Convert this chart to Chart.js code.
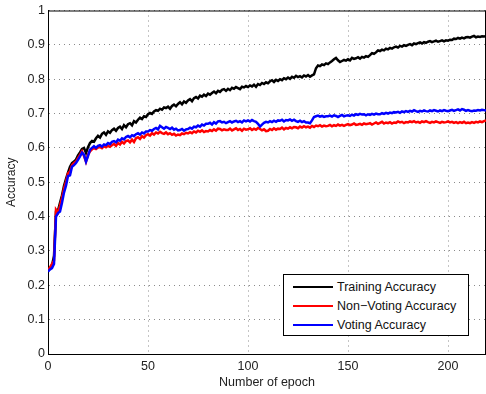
<!DOCTYPE html>
<html>
<head>
<meta charset="utf-8">
<script src="https://cdn.jsdelivr.net/npm/chart.js@4/dist/chart.umd.min.js"></script>
<style>
  body { margin: 0; background: #fff; }
  #wrap { position: relative; width: 486px; height: 394px; }
  #legend {
    position: absolute; left: 283px; top: 274px; width: 184px; height: 60px;
    border: 1px solid #000; background: #fff;
    font: 12.5px "Liberation Sans", Arial, sans-serif; color: #111;
  }
  #legend .row { position: absolute; left: 9px; height: 16px; line-height: 16px; white-space: nowrap; }
  #legend .swatch { display: inline-block; width: 40px; height: 2px; vertical-align: middle; margin-right: 4px; margin-top: -2px; }
</style>
</head>
<body>
<div id="wrap">
  <canvas id="line-chart" width="486" height="394"></canvas>
  <div id="legend"></div>
</div>
<script>
var seriesNames = ["Training Accuracy", "Non\u2212Voting Accuracy", "Voting Accuracy"];
var seriesColors = ["#000000", "#ff0000", "#0000ff"];

// one value per epoch, 0..219
var training = [
  0.245, 0.250, 0.258, 0.285, 0.415, 0.418, 0.440, 0.462, 0.490, 0.510,
  0.528, 0.545, 0.556, 0.560, 0.566, 0.578, 0.587, 0.597, 0.600, 0.585,
  0.602, 0.614, 0.620, 0.618, 0.628, 0.635, 0.630, 0.641, 0.645, 0.638,
  0.648, 0.644, 0.652, 0.656, 0.650, 0.658, 0.662, 0.655, 0.666, 0.660,
  0.669, 0.672, 0.666, 0.678, 0.674, 0.682, 0.688, 0.684, 0.692, 0.690,
  0.698, 0.702, 0.699, 0.706, 0.710, 0.708, 0.714, 0.711, 0.718, 0.716,
  0.720, 0.714, 0.722, 0.726, 0.721, 0.728, 0.733, 0.727, 0.735, 0.731,
  0.738, 0.742, 0.736, 0.745, 0.748, 0.744, 0.752, 0.749, 0.755, 0.751,
  0.758, 0.755, 0.760, 0.764, 0.759, 0.766, 0.763, 0.769, 0.771, 0.766,
  0.772, 0.768, 0.775, 0.772, 0.777, 0.774, 0.771, 0.778, 0.776, 0.780,
  0.777, 0.782, 0.779, 0.784, 0.778, 0.786, 0.783, 0.789, 0.786, 0.791,
  0.788, 0.794, 0.797, 0.792, 0.798, 0.795, 0.800, 0.797, 0.803, 0.800,
  0.805, 0.801, 0.807, 0.804, 0.810, 0.806, 0.809, 0.805, 0.811, 0.808,
  0.812, 0.807, 0.811, 0.814, 0.832, 0.840, 0.838, 0.843, 0.841, 0.846,
  0.844, 0.849, 0.853, 0.858, 0.862, 0.855, 0.850, 0.853, 0.856, 0.854,
  0.858, 0.855, 0.862, 0.859, 0.861, 0.864, 0.860, 0.865, 0.863, 0.867,
  0.865, 0.870, 0.876, 0.874, 0.878, 0.884, 0.882, 0.886, 0.884, 0.889,
  0.887, 0.891, 0.889, 0.893, 0.895, 0.892, 0.897, 0.895, 0.899, 0.897,
  0.900, 0.902, 0.899, 0.904, 0.902, 0.905, 0.907, 0.904, 0.908, 0.906,
  0.909, 0.911, 0.908, 0.910, 0.912, 0.909, 0.911, 0.913, 0.910, 0.913,
  0.912, 0.915, 0.914, 0.918, 0.917, 0.920, 0.918, 0.921, 0.919, 0.922,
  0.923, 0.921, 0.924, 0.926, 0.922, 0.924, 0.923, 0.925, 0.924, 0.925
];

var nonVoting = [
  0.245, 0.252, 0.262, 0.272, 0.420, 0.412, 0.432, 0.455, 0.482, 0.502,
  0.526, 0.532, 0.550, 0.556, 0.560, 0.570, 0.580, 0.590, 0.576, 0.560,
  0.580, 0.590, 0.596, 0.600, 0.597, 0.601, 0.603, 0.599, 0.605, 0.602,
  0.606, 0.603, 0.608, 0.612, 0.606, 0.614, 0.610, 0.618, 0.613, 0.620,
  0.622, 0.616, 0.624, 0.617, 0.628, 0.631, 0.626, 0.634, 0.630, 0.637,
  0.640, 0.636, 0.643, 0.639, 0.645, 0.642, 0.647, 0.643, 0.641, 0.645,
  0.640, 0.643, 0.638, 0.641, 0.636, 0.639, 0.637, 0.642, 0.640, 0.644,
  0.642, 0.646, 0.643, 0.648, 0.645, 0.650, 0.647, 0.651, 0.646, 0.649,
  0.648, 0.652, 0.649, 0.654, 0.650, 0.656, 0.655, 0.651, 0.654, 0.652,
  0.652, 0.656, 0.651, 0.654, 0.657, 0.652, 0.655, 0.650, 0.656, 0.653,
  0.654, 0.657, 0.652, 0.656, 0.653, 0.658, 0.655, 0.651, 0.654, 0.649,
  0.650, 0.655, 0.652, 0.657, 0.653, 0.656, 0.655, 0.659, 0.654, 0.658,
  0.656, 0.660, 0.657, 0.661, 0.660, 0.657, 0.662, 0.659, 0.663, 0.660,
  0.662, 0.659, 0.664, 0.661, 0.665, 0.663, 0.666, 0.662, 0.665, 0.663,
  0.664, 0.667, 0.663, 0.666, 0.664, 0.668, 0.665, 0.667, 0.664, 0.667,
  0.669, 0.666, 0.668, 0.671, 0.667, 0.668, 0.670, 0.667, 0.671, 0.669,
  0.670, 0.672, 0.668, 0.671, 0.674, 0.670, 0.673, 0.676, 0.671, 0.674,
  0.672, 0.675, 0.671, 0.674, 0.673, 0.677, 0.674, 0.676, 0.672, 0.675,
  0.674, 0.677, 0.675, 0.678, 0.674, 0.676, 0.673, 0.677, 0.675, 0.678,
  0.675, 0.673, 0.676, 0.674, 0.677, 0.675, 0.673, 0.676, 0.674, 0.675,
  0.677, 0.674, 0.676, 0.673, 0.675, 0.672, 0.675, 0.673, 0.676, 0.672,
  0.674, 0.672, 0.675, 0.673, 0.676, 0.674, 0.677, 0.675, 0.678, 0.680
];

var voting = [
  0.240, 0.246, 0.250, 0.262, 0.400, 0.410, 0.415, 0.440, 0.470, 0.490,
  0.518, 0.520, 0.545, 0.550, 0.556, 0.565, 0.575, 0.586, 0.580, 0.560,
  0.576, 0.595, 0.600, 0.605, 0.600, 0.606, 0.608, 0.604, 0.610, 0.608,
  0.614, 0.611, 0.618, 0.620, 0.616, 0.624, 0.621, 0.628, 0.625, 0.632,
  0.635, 0.631, 0.637, 0.634, 0.640, 0.643, 0.639, 0.645, 0.642, 0.648,
  0.648, 0.652, 0.650, 0.655, 0.658, 0.654, 0.664, 0.660, 0.656, 0.661,
  0.658, 0.655, 0.659, 0.653, 0.656, 0.651, 0.652, 0.655, 0.650, 0.654,
  0.655, 0.659, 0.656, 0.662, 0.660, 0.665, 0.662, 0.668, 0.665, 0.670,
  0.670, 0.673, 0.668, 0.675, 0.671, 0.677, 0.678, 0.674, 0.676, 0.672,
  0.675, 0.678, 0.674, 0.677, 0.679, 0.675, 0.678, 0.674, 0.680, 0.677,
  0.680, 0.677, 0.681, 0.678, 0.676, 0.670, 0.662, 0.668, 0.673, 0.676,
  0.674, 0.678, 0.675, 0.679, 0.676, 0.680, 0.679, 0.682, 0.677, 0.681,
  0.680, 0.683, 0.679, 0.682, 0.678, 0.676, 0.679, 0.675, 0.678, 0.674,
  0.674, 0.672, 0.680, 0.690, 0.692, 0.694, 0.691, 0.693, 0.690, 0.692,
  0.692, 0.694, 0.691, 0.695, 0.693, 0.690, 0.693, 0.696, 0.692, 0.694,
  0.695, 0.693, 0.697, 0.694, 0.698, 0.696, 0.699, 0.697, 0.698, 0.695,
  0.698, 0.696, 0.699, 0.697, 0.700, 0.698, 0.698, 0.701, 0.699, 0.702,
  0.700, 0.703, 0.701, 0.704, 0.703, 0.705, 0.702, 0.706, 0.704, 0.707,
  0.705, 0.708, 0.706, 0.710, 0.707, 0.705, 0.708, 0.706, 0.709, 0.707,
  0.706, 0.709, 0.707, 0.710, 0.708, 0.706, 0.709, 0.707, 0.710, 0.708,
  0.707, 0.709, 0.711, 0.708, 0.710, 0.712, 0.709, 0.713, 0.711, 0.708,
  0.710, 0.708, 0.707, 0.709, 0.708, 0.710, 0.709, 0.711, 0.710, 0.709
];

var epochs = [];
for (var i = 0; i < training.length; i++) epochs.push(i);

var fontFamily = '"Liberation Sans", Arial, sans-serif';

// matlab style box: solid black top/right edge over the dotted grid
var boxPlugin = {
  id: "box",
  beforeDatasetsDraw: function (chart) {
    var a = chart.chartArea, ctx = chart.ctx;
    ctx.save();
    ctx.strokeStyle = "#000";
    ctx.lineWidth = 1;
    ctx.beginPath();
    ctx.moveTo(a.left, a.top + 0.5);
    ctx.lineTo(a.right, a.top + 0.5);
    ctx.moveTo(a.right - 0.5, a.top);
    ctx.lineTo(a.right - 0.5, a.bottom);
    ctx.stroke();
    ctx.restore();
  }
};

var allSeries = [training, nonVoting, voting];
var datasets = allSeries.map(function (vals, k) {
  return {
    label: seriesNames[k],
    data: vals,
    borderColor: seriesColors[k],
    backgroundColor: seriesColors[k],
    borderWidth: 2.5,
    pointRadius: 0,
    tension: 0,
    fill: false,
    order: 3 - k
  };
});

new Chart(document.getElementById("line-chart"), {
  type: "line",
  data: { labels: epochs, datasets: datasets },
  plugins: [boxPlugin],
  options: {
    responsive: false,
    animation: false,
    events: [],
    layout: { padding: { top: 7, right: 0, left: 0, bottom: 0 } },
    plugins: { legend: { display: false }, tooltip: { enabled: false } },
    scales: {
      x: {
        type: "linear",
        min: 0,
        max: 219,
        afterFit: function (s) { s.height = 40; },
        ticks: {
          stepSize: 50,
          includeBounds: false,
          padding: 5,
          maxRotation: 0,
          color: "#222",
          font: { family: fontFamily, size: 12.5 }
        },
        grid: { color: "#8a8a8a", drawTicks: false },
        border: { color: "#000", width: 1, dash: [1, 4] },
        title: {
          display: true,
          text: "Number of epoch",
          color: "#222",
          padding: { top: 0, bottom: 4 },
          font: { family: fontFamily, size: 12.5 }
        }
      },
      y: {
        min: 0,
        max: 1,
        afterFit: function (s) { s.width = 48; },
        ticks: {
          stepSize: 0.1,
          padding: 3,
          color: "#222",
          font: { family: fontFamily, size: 12.5 },
          callback: function (v) { return String(Math.round(v * 10) / 10); }
        },
        grid: { color: "#8a8a8a", drawTicks: false },
        border: { color: "#000", width: 1, dash: [1, 4] },
        title: {
          display: true,
          text: "Accuracy",
          color: "#222",
          padding: { top: 4, bottom: 0 },
          font: { family: fontFamily, size: 12 }
        }
      }
    }
  }
});

// legend box drawn in the lower right, like the original
var legend = document.getElementById("legend");
seriesNames.forEach(function (name, k) {
  var row = document.createElement("div");
  row.className = "row";
  row.style.top = (4 + k * 19) + "px";
  var sw = document.createElement("span");
  sw.className = "swatch";
  sw.style.background = seriesColors[k];
  row.appendChild(sw);
  row.appendChild(document.createTextNode(name));
  legend.appendChild(row);
});
</script>
</body>
</html>
